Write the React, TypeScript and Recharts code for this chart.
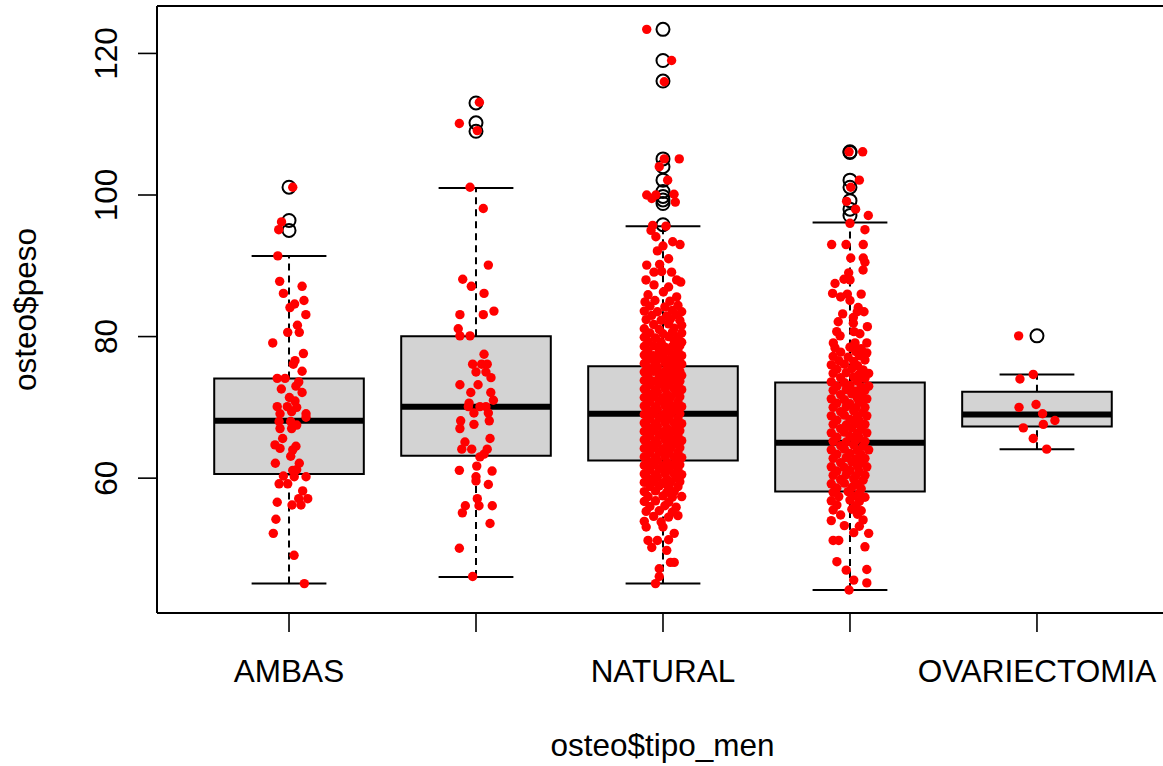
import React from "react";
import {
  ComposedChart,
  XAxis,
  YAxis,
  Scatter,
  ReferenceArea,
  ReferenceLine,
} from "recharts";

const FONT = '"Liberation Sans", Arial, Helvetica, sans-serif';

// groups of osteo$tipo_men (labels 2 and 4 are hidden by R because they overlap)
const categories = ["AMBAS", "HISTERECTOMIA", "NATURAL", "NO CONSTA", "OVARIECTOMIA"];
const shownLabels = ["AMBAS", "", "NATURAL", "", "OVARIECTOMIA"];
const yTicks = [60, 80, 100, 120];

// boxplot stats
const lowerWhisker = [45.1, 46.05, 45.1, 44.2, 64.1];
const firstQuartile = [60.57, 63.15, 62.5, 58.1, 67.3];
const medians = [68.1, 70.07, 69.1, 65.0, 69.0];
const thirdQuartile = [74.09, 80.06, 75.8, 73.5, 72.2];
const upperWhisker = [91.4, 101.0, 95.6, 96.1, 74.65];
const outliers = [
  [101.1, 96.4, 95.0],
  [113.0, 110.2, 109.0],
  [123.4, 119.0, 116.1, 105.1, 104.0, 102.1, 100.5, 99.8, 99.3, 98.8, 95.8],
  [106.1, 106.0, 102.1, 101.1, 99.2, 98.0, 97.1],
  [80.1],
];

// jittered points: [offset from category, peso]
const ambasPts = [
  [0.02, 101.1], [-0.04, 96.2], [-0.055, 95.1], [-0.06, 91.4], [-0.05, 87.8], [0.07, 87.1],
  [-0.03, 86.1], [0.08, 85.1], [0.03, 84.6], [0.005, 84.1], [0.09, 83.1], [0.045, 81.6],
  [-0.007, 80.6], [0.055, 80.6], [-0.087, 79.1], [0.077, 77.6], [0.032, 76.6], [0.023, 76.1],
  [0.07, 75.1], [-0.063, 74.1], [-0.021, 74.1], [0.052, 73.6], [0.037, 73.0], [-0.041, 72.6],
  [0.07, 72.1], [0.002, 71.4], [0.032, 70.9], [-0.063, 70.1], [-0.009, 70.1], [0.041, 70.0],
  [0.014, 69.4], [0.091, 69.1], [-0.048, 69.1], [0.091, 68.6], [-0.053, 68.0], [0.009, 68.0],
  [0.041, 67.5], [-0.048, 67.0], [0.014, 67.0], [-0.034, 65.6], [-0.075, 64.7], [-0.048, 64.2],
  [0.037, 64.5], [0.02, 64.0], [0.009, 63.1], [-0.073, 62.1], [0.055, 62.1], [0.041, 61.2],
  [0.02, 61.1], [-0.03, 60.3], [0.028, 60.2], [0.091, 60.2], [-0.053, 59.2], [-0.007, 59.2],
  [0.073, 58.2], [0.052, 57.1], [0.1, 57.1], [0.016, 56.2], [0.064, 56.2], [-0.063, 56.6],
  [-0.07, 54.2], [-0.084, 52.2], [0.027, 49.1], [0.082, 45.1],
];

const histPts = [
  [0.018, 113.1], [-0.089, 110.1], [0.007, 109.1], [-0.032, 101.1], [0.039, 98.1], [0.066, 90.1],
  [-0.071, 88.1], [-0.025, 87.1], [0.043, 86.1], [-0.086, 83.1], [0.039, 83.1], [0.096, 83.6],
  [-0.095, 81.1], [-0.086, 80.1], [-0.032, 80.1], [0.043, 77.5], [-0.018, 76.1], [0.03, 76.1],
  [0.06, 76.1], [0.0, 75.0], [0.053, 75.0], [0.08, 74.2], [-0.086, 73.2], [0.011, 73.2],
  [-0.028, 72.1], [0.079, 72.1], [0.093, 71.0], [-0.037, 70.6], [-0.041, 70.1], [0.021, 70.1],
  [0.053, 70.1], [-0.011, 69.2], [0.066, 69.2], [-0.082, 68.1], [0.071, 68.1], [-0.011, 67.6],
  [-0.086, 67.0], [0.075, 65.6], [-0.059, 65.1], [-0.076, 64.1], [-0.023, 64.1], [0.06, 64.1],
  [0.043, 63.4], [0.021, 63.0], [0.004, 61.7], [-0.089, 61.1], [0.086, 61.0], [0.0, 60.2],
  [0.0, 59.6], [0.066, 59.1], [0.007, 57.1], [-0.057, 56.1], [0.016, 56.1], [0.087, 56.1],
  [-0.073, 55.1], [0.075, 53.6], [-0.089, 50.1], [-0.018, 46.1],
];

const naturalPts = [
  [-0.087, 123.4], [0.046, 119.0], [0.007, 116.0], [0.007, 105.1], [0.087, 105.1], [-0.02, 104.0],
  [0.025, 102.1], [-0.087, 100.0], [-0.06, 99.5], [-0.038, 100.0], [0.059, 100.1], [0.066, 99.0],
  [-0.055, 95.7], [0.016, 95.6], [-0.064, 95.0], [-0.038, 94.1], [0.052, 93.4], [0.091, 93.0],
  [0.0, 92.8], [-0.03, 92.1], [0.03, 91.0], [-0.087, 90.1], [-0.018, 90.2], [-0.048, 89.1],
  [0.046, 89.1], [-0.007, 89.2], [-0.091, 88.0], [0.073, 88.0], [0.095, 87.7], [-0.048, 87.3],
  [0.03, 87.0], [0.002, 86.3], [-0.08, 85.9], [0.073, 85.6], [-0.043, 85.1], [0.037, 85.0],
  [-0.096, 84.9],
  [-0.07, 84.3], [0.01, 84.2], [0.08, 84.4], [-0.1, 83.6], [-0.03, 83.5], [0.05, 83.7], [0.1, 83.5],
  [-0.06, 83.0], [0.02, 82.9], [0.07, 83.1], [-0.09, 82.4], [-0.01, 82.3], [0.04, 82.5], [0.09, 82.3],
  [-0.05, 81.7], [0.03, 81.8], [0.1, 81.6], [-0.1, 81.1], [-0.02, 81.0], [0.06, 81.2],
  [-0.07, 80.5], [0.0, 80.4], [0.05, 80.6], [0.1, 80.5], [-0.1, 79.9], [-0.04, 79.8], [0.03, 80.0],
  [0.08, 79.9], [-0.08, 79.3], [-0.01, 79.2], [0.06, 79.4], [0.1, 79.2], [-0.1, 78.6], [-0.05, 78.7],
  [0.01, 78.5], [0.05, 78.6], [0.09, 78.7], [-0.08, 78.0], [-0.02, 78.1], [0.03, 77.9], [0.08, 78.0],
  [-0.1, 77.4], [-0.05, 77.3], [0.0, 77.5], [0.06, 77.4], [0.1, 77.3], [-0.07, 76.8], [-0.02, 76.9],
  [0.03, 76.7], [0.08, 76.8], [-0.1, 76.2], [-0.04, 76.1], [0.01, 76.3], [0.05, 76.2], [0.1, 76.1],
  [-0.08, 75.6], [-0.03, 75.7], [0.02, 75.5], [0.07, 75.6], [-0.1, 75.0], [-0.05, 75.1], [0.0, 74.9],
  [0.04, 75.0], [0.09, 75.1], [-0.08, 74.4], [-0.02, 74.5], [0.03, 74.3], [0.07, 74.4], [0.1, 74.5],
  [-0.1, 73.8], [-0.05, 73.7], [0.0, 73.9], [0.05, 73.8], [0.09, 73.7], [-0.07, 73.2], [-0.02, 73.3],
  [0.03, 73.1], [0.08, 73.2], [-0.1, 72.6], [-0.04, 72.5], [0.01, 72.7], [0.06, 72.6], [0.1, 72.5],
  [-0.08, 72.0], [-0.03, 72.1], [0.02, 71.9], [0.07, 72.0], [-0.1, 71.4], [-0.05, 71.5], [0.0, 71.3],
  [0.04, 71.4], [0.09, 71.5], [-0.07, 70.8], [-0.02, 70.9], [0.03, 70.7], [0.08, 70.8], [-0.1, 70.2],
  [-0.04, 70.1], [0.01, 70.3], [0.05, 70.2], [0.1, 70.1], [-0.08, 69.6], [-0.03, 69.7], [0.02, 69.5],
  [0.07, 69.6], [-0.1, 69.0], [-0.05, 69.1], [0.0, 68.9], [0.04, 69.0], [0.09, 69.1], [-0.07, 68.4],
  [-0.02, 68.5], [0.03, 68.3], [0.08, 68.4], [-0.1, 67.8], [-0.04, 67.7], [0.01, 67.9], [0.06, 67.8],
  [0.1, 67.7], [-0.08, 67.2], [-0.03, 67.3], [0.02, 67.1], [0.07, 67.2], [-0.1, 66.6], [-0.05, 66.7],
  [0.0, 66.5], [0.05, 66.6], [0.09, 66.7], [-0.07, 66.0], [-0.02, 66.1], [0.03, 65.9], [0.08, 66.0],
  [-0.1, 65.4], [-0.04, 65.3], [0.01, 65.5], [0.05, 65.4], [0.1, 65.3], [-0.08, 64.8], [-0.03, 64.9],
  [0.02, 64.7], [0.07, 64.8], [-0.1, 64.2], [-0.05, 64.3], [0.0, 64.1], [0.04, 64.2], [0.09, 64.3],
  [-0.07, 63.6], [-0.02, 63.7], [0.03, 63.5], [0.08, 63.6], [-0.1, 63.0], [-0.04, 62.9], [0.01, 63.1],
  [0.06, 63.0], [0.1, 62.9], [-0.08, 62.4], [-0.03, 62.5], [0.02, 62.3], [0.07, 62.4], [-0.1, 61.8],
  [-0.05, 61.9], [0.0, 61.7], [0.05, 61.8], [0.09, 61.9], [-0.07, 61.2], [-0.02, 61.3], [0.03, 61.1],
  [0.08, 61.2], [-0.1, 60.6], [-0.04, 60.5], [0.01, 60.7], [0.06, 60.6], [0.1, 60.5], [-0.08, 60.0],
  [-0.03, 60.1], [0.02, 59.9], [0.07, 60.0], [-0.1, 59.4], [-0.05, 59.5], [0.0, 59.3], [0.04, 59.4],
  [0.09, 59.5], [-0.07, 58.8], [-0.02, 58.9], [0.03, 58.7], [0.08, 58.8], [-0.1, 58.1], [-0.04, 58.2],
  [0.02, 58.0], [0.06, 58.1], [-0.08, 57.4], [0.0, 57.5], [0.05, 57.3], [0.1, 57.4], [-0.1, 56.7],
  [-0.04, 56.8], [0.03, 56.6], [-0.07, 56.0], [0.01, 56.1], [0.07, 55.9], [-0.09, 55.3], [-0.02, 55.4],
  [0.05, 55.2], [-0.05, 54.6], [0.03, 54.5], [0.08, 54.7], [-0.1, 53.9], [-0.01, 53.8], [-0.09, 53.1],
  [0.0, 53.1], [0.06, 52.2], [-0.08, 51.2], [-0.03, 51.2], [0.03, 51.3], [-0.06, 50.2], [0.02, 49.8],
  [0.04, 48.1], [0.06, 48.1], [-0.02, 47.2], [-0.02, 46.1], [-0.04, 45.1],
];

const noConstaPts = [
  [-0.005, 106.1], [0.068, 106.1], [0.05, 102.1], [0.004, 101.1], [-0.018, 99.1], [0.03, 98.0],
  [0.098, 97.1], [0.0, 96.0], [0.08, 95.1], [-0.098, 93.0], [-0.021, 93.0], [0.071, 93.0],
  [0.004, 91.1], [0.071, 91.1], [0.08, 90.5], [0.07, 89.4], [-0.007, 89.0], [-0.032, 88.1],
  [-0.08, 87.5], [0.0, 88.0], [-0.093, 86.1], [-0.014, 86.0], [-0.05, 85.6], [0.06, 86.0],
  [0.0, 85.1], [0.044, 84.1], [0.039, 83.5], [0.075, 83.5], [-0.039, 83.2], [0.018, 82.7],
  [-0.063, 82.1], [0.018, 81.9], [0.093, 81.4], [-0.071, 80.7], [0.021, 80.7], [0.053, 80.4],
  [-0.053, 80.1], [0.09, 79.1], [-0.089, 79.1], [0.027, 79.1],
  [-0.08, 78.4], [0.0, 78.5], [0.06, 78.3], [-0.05, 77.8], [0.03, 77.9], [0.09, 77.7], [-0.09, 77.2],
  [-0.01, 77.1], [0.05, 77.3], [-0.06, 76.6], [0.02, 76.5], [0.08, 76.7], [-0.1, 76.0], [-0.03, 76.1],
  [0.04, 75.9], [-0.07, 75.4], [0.01, 75.5], [0.07, 75.3], [-0.09, 74.8], [-0.02, 74.9], [0.05, 74.7],
  [0.1, 74.8], [-0.05, 74.2], [0.02, 74.3], [0.08, 74.1], [-0.1, 73.6], [-0.03, 73.5], [0.04, 73.7],
  [-0.07, 73.0], [0.0, 73.1], [0.06, 72.9], [0.1, 73.0], [-0.09, 72.4], [-0.02, 72.5], [0.03, 72.3],
  [0.08, 72.4], [-0.05, 71.8], [0.01, 71.9], [0.06, 71.7], [-0.1, 71.2], [-0.03, 71.1], [0.04, 71.3],
  [0.09, 71.2], [-0.07, 70.6], [0.0, 70.5], [0.05, 70.7], [-0.09, 70.0], [-0.02, 70.1], [0.03, 69.9],
  [0.08, 70.0], [-0.05, 69.4], [0.02, 69.5], [0.07, 69.3], [-0.1, 68.8], [-0.03, 68.9], [0.04, 68.7],
  [0.09, 68.8], [-0.07, 68.2], [0.0, 68.3], [0.05, 68.1], [-0.09, 67.6], [-0.02, 67.5], [0.03, 67.7],
  [0.08, 67.6], [-0.05, 67.0], [0.01, 67.1], [0.06, 66.9], [-0.1, 66.4], [-0.03, 66.5], [0.04, 66.3],
  [0.09, 66.4], [-0.07, 65.8], [0.0, 65.9], [0.05, 65.7], [-0.09, 65.2], [-0.02, 65.1], [0.03, 65.3],
  [0.08, 65.2], [-0.05, 64.6], [0.02, 64.7], [0.07, 64.5], [-0.1, 64.0], [-0.03, 64.1], [0.04, 63.9],
  [0.1, 64.0], [-0.07, 63.4], [0.0, 63.5], [0.06, 63.3], [-0.09, 62.8], [-0.02, 62.9], [0.03, 62.7],
  [0.08, 62.8], [-0.05, 62.2], [0.01, 62.3], [0.06, 62.1], [-0.1, 61.6], [-0.03, 61.5], [0.04, 61.7],
  [0.09, 61.6], [-0.07, 61.0], [0.0, 61.1], [0.05, 60.9], [-0.09, 60.4], [-0.02, 60.5], [0.03, 60.3],
  [0.08, 60.4], [-0.05, 59.8], [0.02, 59.9], [0.07, 59.7], [-0.1, 59.2], [-0.03, 59.3], [0.04, 59.1],
  [-0.07, 58.6], [0.01, 58.7], [0.06, 58.5], [-0.09, 58.0], [-0.01, 58.1], [0.05, 57.9], [-0.06, 57.4],
  [0.02, 57.5], [0.08, 57.3], [-0.1, 56.8], [0.0, 56.9], [0.05, 56.7], [-0.07, 56.2], [0.03, 56.1],
  [-0.09, 55.5], [0.01, 55.6], [0.06, 55.4], [-0.05, 54.8], [0.04, 54.9], [-0.1, 54.0], [0.07, 54.1],
  [-0.03, 53.3], [0.05, 53.2], [0.1, 52.2], [0.02, 52.3], [-0.09, 51.2], [-0.06, 51.2], [0.08, 50.3],
  [-0.07, 48.2], [-0.02, 47.0], [0.09, 47.1], [0.02, 45.6], [0.09, 45.2], [-0.005, 44.2],
];

const ovarPts = [
  [-0.098, 80.1], [-0.02, 74.65], [-0.091, 74.0], [-0.005, 70.4], [-0.096, 70.0], [0.03, 69.1],
  [0.096, 68.15], [0.034, 67.6], [-0.073, 67.1], [-0.02, 65.6], [0.052, 64.1],
];

const groupPts = [ambasPts, histPts, naturalPts, noConstaPts, ovarPts];

const jitterData = groupPts.flatMap((pts, i) =>
  pts.map(([dx, y]) => ({ x: i + 1 + dx, y }))
);
const outlierData = outliers.flatMap((vals, i) =>
  vals.map((y) => ({ x: i + 1, y }))
);

const BOX_HALF = 0.4;
const CAP_HALF = 0.2;
const FS = 31.5;

function XTick(props: any) {
  const { x, y, payload } = props;
  const label = shownLabels[Math.round(payload.value) - 1];
  return (
    <text x={x} y={y + 50} textAnchor="middle" fontSize={FS} fontFamily={FONT} fill="#000">
      {label}
    </text>
  );
}

function YTick(props: any) {
  const { x, y, payload } = props;
  return (
    <text
      transform={`translate(${x - 21},${y}) rotate(-90)`}
      textAnchor="middle"
      fontSize={FS}
      fontFamily={FONT}
      fill="#000"
    >
      {payload.value}
    </text>
  );
}

export default function App() {
  return (
    <div style={{ position: "absolute", left: 0, top: 0, width: 1163, height: 766, background: "#fff" }}>
      <ComposedChart width={1163} height={766} margin={{ top: 6, right: 0, bottom: 0, left: 0 }}>
        <XAxis
          type="number"
          dataKey="x"
          domain={[0.294, 5.674]}
          allowDataOverflow
          ticks={[1, 2, 3, 4, 5]}
          interval={0}
          height={153}
          tickSize={19}
          tickMargin={0}
          tick={<XTick />}
          axisLine={{ stroke: "#000", strokeWidth: 2 }}
          tickLine={{ stroke: "#000", strokeWidth: 1.6 }}
        />
        <YAxis
          type="number"
          dataKey="y"
          domain={[40.95, 126.7]}
          allowDataOverflow
          ticks={yTicks}
          interval={0}
          width={157}
          tickSize={19}
          tickMargin={0}
          tick={<YTick />}
          axisLine={{ stroke: "#000", strokeWidth: 2 }}
          tickLine={{ stroke: "#000", strokeWidth: 1.6 }}
        />
        <ReferenceLine y={126.7} stroke="#000" strokeWidth={2} ifOverflow="visible" />
        {categories.map((c, i) => {
          const cx = i + 1;
          return (
            <React.Fragment key={c}>
              <ReferenceLine
                segment={[{ x: cx, y: thirdQuartile[i] }, { x: cx, y: upperWhisker[i] }]}
                stroke="#000"
                strokeWidth={2}
                strokeDasharray="7 5"
                ifOverflow="visible"
              />
              <ReferenceLine
                segment={[{ x: cx, y: lowerWhisker[i] }, { x: cx, y: firstQuartile[i] }]}
                stroke="#000"
                strokeWidth={2}
                strokeDasharray="7 5"
                ifOverflow="visible"
              />
              <ReferenceLine
                segment={[{ x: cx - CAP_HALF, y: upperWhisker[i] }, { x: cx + CAP_HALF, y: upperWhisker[i] }]}
                stroke="#000"
                strokeWidth={2}
                ifOverflow="visible"
              />
              <ReferenceLine
                segment={[{ x: cx - CAP_HALF, y: lowerWhisker[i] }, { x: cx + CAP_HALF, y: lowerWhisker[i] }]}
                stroke="#000"
                strokeWidth={2}
                ifOverflow="visible"
              />
              <ReferenceArea
                x1={cx - BOX_HALF}
                x2={cx + BOX_HALF}
                y1={firstQuartile[i]}
                y2={thirdQuartile[i]}
                fill="#D3D3D3"
                fillOpacity={1}
                stroke="#000"
                strokeWidth={2}
                ifOverflow="visible"
              />
              <ReferenceLine
                segment={[{ x: cx - BOX_HALF, y: medians[i] }, { x: cx + BOX_HALF, y: medians[i] }]}
                stroke="#000"
                strokeWidth={6}
                ifOverflow="visible"
              />
            </React.Fragment>
          );
        })}
        <Scatter
          data={outlierData}
          isAnimationActive={false}
          shape={(p: any) => (
            <circle cx={p.cx} cy={p.cy} r={6.5} fill="none" stroke="#000" strokeWidth={2} />
          )}
        />
        <Scatter
          data={jitterData}
          isAnimationActive={false}
          shape={(p: any) => <circle cx={p.cx} cy={p.cy} r={4.7} fill="#FF0000" />}
        />
      </ComposedChart>
      <svg
        width={1163}
        height={766}
        style={{ position: "absolute", left: 0, top: 0, pointerEvents: "none" }}
      >
        <text x={662.5} y={756} textAnchor="middle" fontSize={FS} fontFamily={FONT} fill="#000">
          osteo$tipo_men
        </text>
        <text
          transform="translate(36,309.5) rotate(-90)"
          textAnchor="middle"
          fontSize={FS}
          fontFamily={FONT}
          fill="#000"
        >
          osteo$peso
        </text>
      </svg>
    </div>
  );
}
